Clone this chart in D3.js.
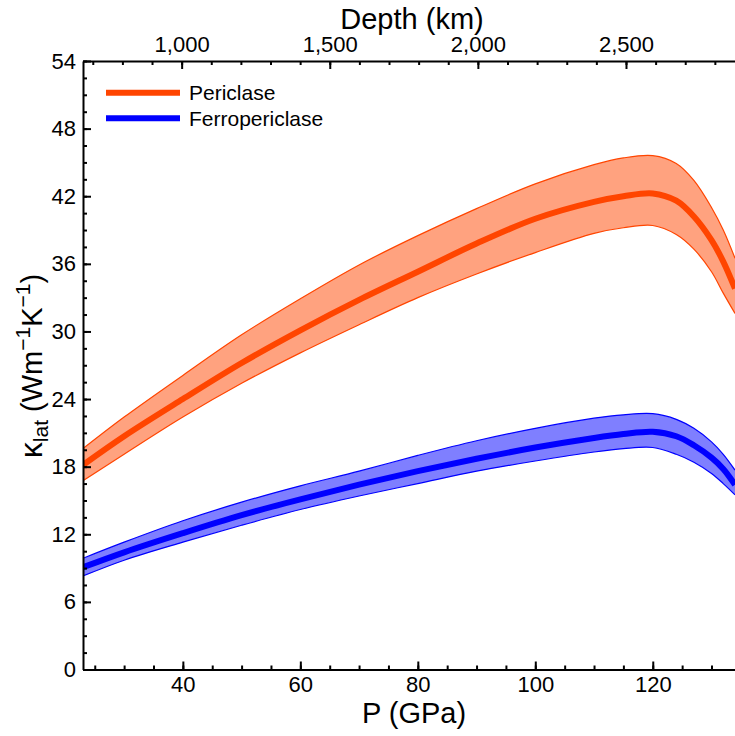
<!DOCTYPE html>
<html>
<head>
<meta charset="utf-8">
<script src="https://cdn.jsdelivr.net/npm/d3@7"></script>
<style>
  body { margin: 0; background: #fff; }
  svg { display: block; font-family: "Liberation Sans", Arial, sans-serif; }
  .axis path, .axis line { stroke: #000; stroke-width: 2; }
  .axis text { font-size: 22px; fill: #000; font-family: "Liberation Sans", Arial, sans-serif; }
  .title { font-size: 29px; fill: #000; }
  .legend { font-size: 21px; fill: #000; }
</style>
</head>
<body>
<div id="chart"></div>
<script>
// values
const pressure = [23, 30, 40, 50, 60, 70, 80, 90, 100, 110, 115, 120, 124, 127, 130, 132, 134];

const periclaseMean  = [18.15, 20.7, 24.0, 27.2, 30.1, 32.8, 35.3, 37.8, 40.0, 41.5, 42.0, 42.25, 41.6, 40.2, 38.1, 36.2, 33.8];
const periclaseUpper = [19.6, 22.4, 26.1, 29.7, 32.9, 35.9, 38.5, 40.9, 43.1, 44.8, 45.4, 45.6, 44.9, 43.4, 41.0, 39.0, 36.5];
const periclaseLower = [16.75, 19.1, 22.4, 25.4, 28.1, 30.6, 33.0, 35.1, 37.0, 38.7, 39.2, 39.4, 38.6, 37.3, 35.3, 33.4, 31.6];

const ferroMean  = [9.07, 10.4, 12.1, 13.7, 15.1, 16.4, 17.6, 18.7, 19.7, 20.55, 20.9, 21.1, 20.7, 19.9, 18.8, 17.8, 16.4];
const ferroUpper = [9.87, 11.3, 13.2, 14.85, 16.3, 17.6, 19.0, 20.3, 21.4, 22.3, 22.6, 22.7, 22.2, 21.4, 20.2, 19.1, 17.7];
const ferroLower = [8.3, 9.7, 11.3, 12.8, 14.2, 15.4, 16.5, 17.6, 18.5, 19.3, 19.6, 19.7, 19.1, 18.4, 17.4, 16.5, 15.5];

const seriesNames = ["Periclase", "Ferropericlase"];
const seriesColors = ["#ff4500", "#0000ff"];

const pressureTicks = [40, 60, 80, 100, 120];
const kappaTicks = [0, 6, 12, 18, 24, 30, 36, 42, 48, 54];
const depthTicks = [1000, 1500, 2000, 2500];

const width = 735, height = 736;
const plotLeft = 83, plotRight = 735, plotTop = 61, plotBottom = 669.5;

const svg = d3.select("#chart")
  .append("svg")
  .attr("width", width)
  .attr("height", height);

const x = d3.scaleLinear().domain([23, 134]).range([plotLeft, plotRight]);
const y = d3.scaleLinear().domain([0, 54]).range([plotBottom, plotTop]);
// depth axis on top, linear over the same span
const xDepth = d3.scaleLinear().domain([667, 2868]).range([plotLeft, plotRight]);

svg.append("clipPath")
  .attr("id", "plot-clip")
  .append("rect")
  .attr("x", plotLeft)
  .attr("y", plotTop)
  .attr("width", plotRight - plotLeft)
  .attr("height", plotBottom - plotTop);

const plot = svg.append("g").attr("clip-path", "url(#plot-clip)");

const series = [
  { name: seriesNames[0], color: seriesColors[0], mean: periclaseMean, upper: periclaseUpper, lower: periclaseLower },
  { name: seriesNames[1], color: seriesColors[1], mean: ferroMean, upper: ferroUpper, lower: ferroLower }
];

const curve = d3.curveCatmullRom.alpha(0.5);

series.forEach(s => {
  const rows = pressure.map((p, i) => ({ p: p, m: s.mean[i], hi: s.upper[i], lo: s.lower[i] }));

  plot.append("path")
    .datum(rows)
    .attr("fill", s.color)
    .attr("fill-opacity", 0.5)
    .attr("d", d3.area().curve(curve).x(d => x(d.p)).y0(d => y(d.lo)).y1(d => y(d.hi)));

  ["hi", "lo"].forEach(k => {
    plot.append("path")
      .datum(rows)
      .attr("fill", "none")
      .attr("stroke", s.color)
      .attr("stroke-width", 1.2)
      .attr("d", d3.line().curve(curve).x(d => x(d.p)).y(d => y(d[k])));
  });

  plot.append("path")
    .datum(rows)
    .attr("fill", "none")
    .attr("stroke", s.color)
    .attr("stroke-width", 6)
    .attr("d", d3.line().curve(curve).x(d => x(d.p)).y(d => y(d.m)));
});

// minor ticks first, major axes on top
svg.append("g")
  .attr("class", "axis")
  .attr("transform", "translate(0," + plotBottom + ")")
  .call(d3.axisBottom(x).tickValues(d3.range(25, 135, 5)).tickSize(-4).tickFormat(""))
  .call(g => g.select(".domain").remove());

svg.append("g")
  .attr("class", "axis")
  .attr("transform", "translate(" + plotLeft + ",0)")
  .call(d3.axisLeft(y).tickValues(d3.range(0, 54.1, 1.5)).tickSize(-4).tickFormat(""))
  .call(g => g.select(".domain").remove());

svg.append("g")
  .attr("class", "axis")
  .attr("transform", "translate(0," + plotTop + ")")
  .call(d3.axisTop(xDepth).tickValues(d3.range(700, 2868, 100)).tickSize(-4).tickFormat(""))
  .call(g => g.select(".domain").remove());

svg.append("g")
  .attr("class", "axis")
  .attr("transform", "translate(0," + plotBottom + ")")
  .call(d3.axisBottom(x).tickValues(pressureTicks).tickSize(-8).tickSizeOuter(0).tickPadding(7).tickFormat(d3.format("d")));

svg.append("g")
  .attr("class", "axis")
  .attr("transform", "translate(" + plotLeft + ",0)")
  .call(d3.axisLeft(y).tickValues(kappaTicks).tickSize(-8).tickSizeOuter(0).tickPadding(7).tickFormat(d3.format("d")));

svg.append("g")
  .attr("class", "axis")
  .attr("transform", "translate(0," + plotTop + ")")
  .call(d3.axisTop(xDepth).tickValues(depthTicks).tickSize(-8).tickSizeOuter(0).tickPadding(9).tickFormat(d3.format(",")));

// axis titles
svg.append("text")
  .attr("class", "title")
  .attr("x", 412)
  .attr("y", 29)
  .attr("text-anchor", "middle")
  .text("Depth (km)");

svg.append("text")
  .attr("class", "title")
  .attr("x", 414)
  .attr("y", 723)
  .attr("text-anchor", "middle")
  .text("P (GPa)");

const yTitle = svg.append("text")
  .attr("class", "title")
  .attr("font-size", "30px")
  .attr("transform", "translate(42,366) rotate(-90)")
  .attr("text-anchor", "middle");
yTitle.append("tspan").attr("font-size", "32px").text("κ");
yTitle.append("tspan").attr("font-size", "21px").attr("dy", 6).text("lat");
yTitle.append("tspan").attr("dy", -6).text(" (Wm");
yTitle.append("tspan").attr("font-size", "21px").attr("dy", -12).text("−1");
yTitle.append("tspan").attr("dy", 12).text("K");
yTitle.append("tspan").attr("font-size", "21px").attr("dy", -12).text("−1");
yTitle.append("tspan").attr("dy", 12).text(")");

// legend
const legend = svg.append("g");
series.forEach((s, i) => {
  const ly = 92.7 + i * 25.6;
  legend.append("line")
    .attr("x1", 106)
    .attr("x2", 180)
    .attr("y1", ly)
    .attr("y2", ly)
    .attr("stroke", s.color)
    .attr("stroke-width", 6);
  legend.append("text")
    .attr("class", "legend")
    .attr("x", 189)
    .attr("y", ly)
    .attr("dy", "0.36em")
    .text(s.name);
});
</script>
</body>
</html>
